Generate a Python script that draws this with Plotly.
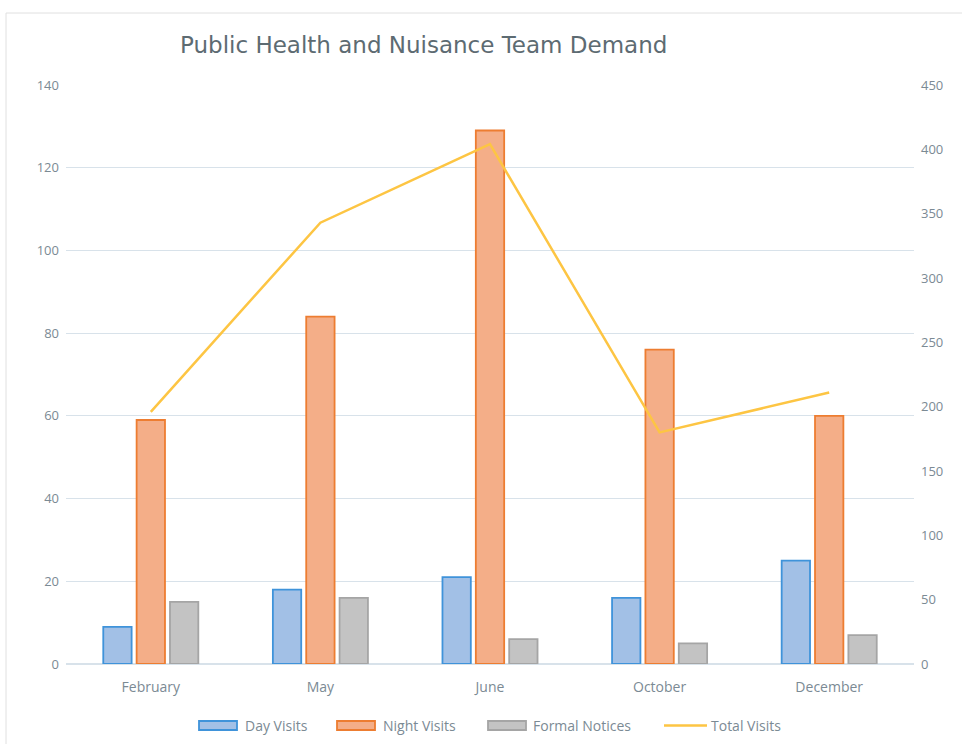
import plotly.graph_objects as go

months = ["February", "May", "June", "October", "December"]
day_visits = [9, 18, 21, 16, 25]
night_visits = [59, 84, 129, 76, 60]
formal_notices = [15, 16, 6, 5, 7]
total_visits = [196, 343, 404, 180, 211]

left_ticks = [0, 20, 40, 60, 80, 100, 120, 140]
right_ticks = [0, 50, 100, 150, 200, 250, 300, 350, 400, 450]

FONT = "'Open Sans', sans-serif"
TICK_COLOR = "#7b8a94"
GRID = "#d8e2ea"

styles = {
    "Day Visits": dict(fill="#a2c0e6", line="#3f93da"),
    "Night Visits": dict(fill="#f4ae88", line="#ed7d31"),
    "Formal Notices": dict(fill="#c3c3c3", line="#a5a5a5"),
    "Total Visits": dict(line="#fdc543"),
}

fig = go.Figure()
for name, vals in [("Day Visits", day_visits), ("Night Visits", night_visits),
                   ("Formal Notices", formal_notices)]:
    fig.add_trace(go.Bar(x=months, y=vals, name=name, showlegend=False,
                         marker=dict(color=styles[name]["fill"],
                                     line=dict(color=styles[name]["line"], width=1.8))))
fig.add_trace(go.Scatter(x=months, y=total_visits, name="Total Visits", yaxis="y2",
                         mode="lines", showlegend=False,
                         line=dict(color=styles["Total Visits"]["line"], width=2.5)))

W, H = 962, 744
ml, mr, mt, mb = 66, 48, 85, 80
pw, ph = W - ml - mr, H - mt - mb

def px_x(x):
    return (x - ml) / pw

def px_y(y):
    return (H - mb - y) / ph

shapes = [
    dict(type="line", xref="paper", yref="paper", x0=px_x(6), x1=px_x(962), y0=px_y(13), y1=px_y(13),
         line=dict(color="#e0e0e0", width=1)),
    dict(type="line", xref="paper", yref="paper", x0=px_x(6), x1=px_x(6), y0=px_y(13), y1=px_y(744),
         line=dict(color="#e0e0e0", width=1)),
]
annotations = []

# manual legend (wide rectangle symbols as in the reference)
legend_items = [("Day Visits", 199, 243), ("Night Visits", 337, 381),
                ("Formal Notices", 488, 531), ("Total Visits", 664, 709)]
ly = 725.5
for name, sx, tx in legend_items:
    st = styles[name]
    if "fill" in st:
        shapes.append(dict(type="rect", xref="paper", yref="paper",
                           x0=px_x(sx), x1=px_x(sx + 38), y0=px_y(ly + 4.5), y1=px_y(ly - 4.5),
                           fillcolor=st["fill"], line=dict(color=st["line"], width=1.8)))
    else:
        shapes.append(dict(type="line", xref="paper", yref="paper",
                           x0=px_x(sx), x1=px_x(sx + 43), y0=px_y(ly), y1=px_y(ly),
                           line=dict(color=st["line"], width=2.5)))
    annotations.append(dict(text=name, xref="paper", yref="paper", x=px_x(tx), y=px_y(ly),
                            xanchor="left", yanchor="middle", showarrow=False,
                            font=dict(size=14, color=TICK_COLOR, family=FONT)))

fig.update_layout(
    width=W, height=H,
    margin=dict(l=ml, r=mr, t=mt, b=mb, autoexpand=False),
    paper_bgcolor="white", plot_bgcolor="white",
    font=dict(family=FONT, color=TICK_COLOR, size=13),
    title=dict(text="Public Health and Nuisance Team Demand", x=180 / W, xanchor="left",
               xref="container", y=1 - 45 / H, yanchor="middle", yref="container",
               font=dict(size=23, color="#5d6b72", family="'DejaVu Sans', sans-serif")),
    barmode="group", bargap=0.41, bargroupgap=0.15,
    showlegend=False,
    xaxis=dict(showgrid=False, showline=False, ticks="", tickfont=dict(size=14, color=TICK_COLOR),
               ticklabelstandoff=13),
    yaxis=dict(range=[0, 140], tickvals=left_ticks, showgrid=True, gridcolor=GRID, gridwidth=1,
               zeroline=True, zerolinecolor=GRID, showline=False, ticks="",
               tickfont=dict(size=13, color=TICK_COLOR), ticklabelstandoff=6),
    yaxis2=dict(range=[0, 450], tickvals=right_ticks, overlaying="y", side="right",
                showgrid=False, zeroline=False, showline=False, ticks="",
                tickfont=dict(size=13, color=TICK_COLOR), ticklabelstandoff=6),
    shapes=shapes,
    annotations=annotations,
)

fig.write_html("out.html", config={"displayModeBar": False})

# remove the browser's default body margin so the figure fills the window exactly
with open("out.html", "r", encoding="utf-8") as f:
    html = f.read()
html = html.replace("<head>", "<head><style>html,body{margin:0;padding:0;overflow:hidden;}</style>", 1)
with open("out.html", "w", encoding="utf-8") as f:
    f.write(html)
